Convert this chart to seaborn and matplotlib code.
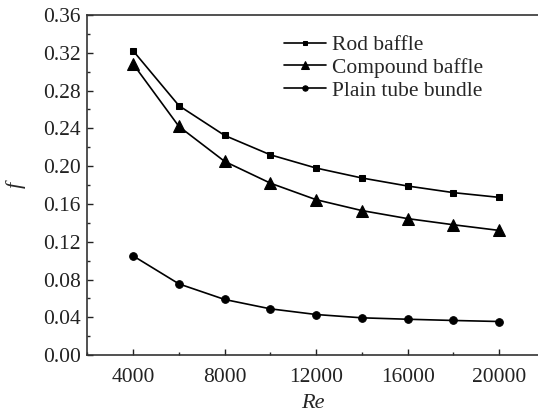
import numpy as np
import pandas as pd
import matplotlib
matplotlib.use("Agg")
import matplotlib.pyplot as plt
import seaborn as sns
from matplotlib.ticker import MultipleLocator

re_values = [4000, 6000, 8000, 10000, 12000, 14000, 16000, 18000, 20000]
rod_baffle = [0.322, 0.264, 0.2325, 0.212, 0.198, 0.1875, 0.179, 0.172, 0.167]
compound_baffle = [0.308, 0.242, 0.205, 0.182, 0.1645, 0.153, 0.1445, 0.138, 0.132]
plain_tube = [0.105, 0.0754, 0.0589, 0.049, 0.043, 0.0395, 0.038, 0.0367, 0.0356]
series_names = ["Rod baffle", "Compound baffle", "Plain tube bundle"]

sns.set_style("ticks")
plt.rcParams['font.family'] = ['Liberation Serif', 'DejaVu Serif']

df = pd.DataFrame({
    "Re": re_values * 3,
    "f": rod_baffle + compound_baffle + plain_tube,
    "series": [series_names[0]] * 9 + [series_names[1]] * 9 + [series_names[2]] * 9,
})

fig = plt.figure(figsize=(5.38, 4.12), dpi=100)
ax = fig.add_axes([0.1626, 0.138, 0.8374, 0.8256])

markers = {"Rod baffle": "s", "Compound baffle": "^", "Plain tube bundle": "o"}
msizes = {"Rod baffle": 4.5, "Compound baffle": 8.5, "Plain tube bundle": 5.5}
for name in series_names:
    sub = df[df["series"] == name]
    sns.lineplot(data=sub, x="Re", y="f", ax=ax, color="black", linewidth=1.2,
                 marker=markers[name], markersize=msizes[name],
                 markeredgecolor="black", markerfacecolor="black", label=name)

ax.set_xlim(2000, 21700)
ax.set_ylim(0, 0.36)
ax.xaxis.set_major_locator(MultipleLocator(4000))
ax.xaxis.set_minor_locator(MultipleLocator(2000))
ax.yaxis.set_major_locator(MultipleLocator(0.04))
ax.yaxis.set_minor_locator(MultipleLocator(0.02))
ax.yaxis.set_major_formatter(matplotlib.ticker.FormatStrFormatter("%.2f"))
ax.tick_params(which="major", direction="in", length=4.5, width=1.0, labelsize=15.5, colors="#222222")
ax.tick_params(which="minor", direction="in", length=2.5, width=1.0)
ax.tick_params(axis="x", which="both", top=False, pad=9)
ax.tick_params(axis="y", which="both", right=False, pad=5)
for s in ["left", "bottom", "top"]:
    ax.spines[s].set_linewidth(1.2)
    ax.spines[s].set_color("#333333")
ax.spines["right"].set_visible(False)

ax.set_xlabel("Re", fontsize=16, style="italic", labelpad=5)
ax.set_ylabel("f", fontsize=16, style="italic", labelpad=12)

leg = ax.legend(loc="upper left", bbox_to_anchor=(0.418, 0.966), frameon=False,
                fontsize=15.5, handlelength=1.95, handletextpad=0.25, labelspacing=0.12,
                borderaxespad=0)
for h in leg.get_lines():
    h.set_markersize(h.get_markersize() * 0.7)

fig.savefig("out.png", dpi=100)
